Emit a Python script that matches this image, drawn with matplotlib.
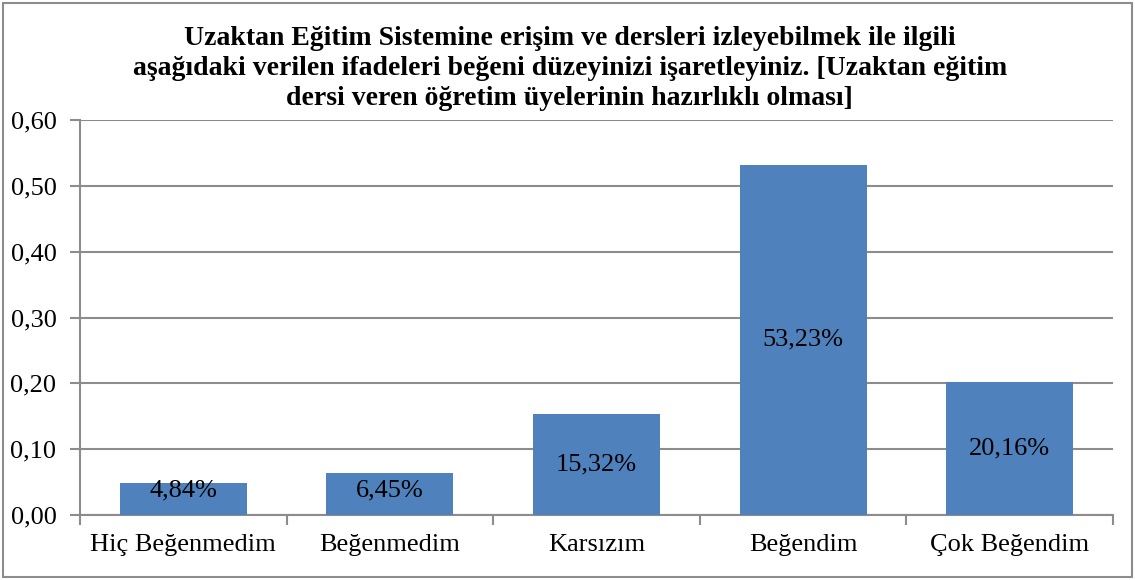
import matplotlib.pyplot as plt
from matplotlib.patches import Rectangle
from matplotlib.ticker import FuncFormatter

# chart data
categories = ['Hiç Beğenmedim', 'Beğenmedim', 'Karsızım', 'Beğendim', 'Çok Beğendim']
values = [0.0484, 0.0645, 0.1532, 0.5323, 0.2016]
labels = ['4,84%', '6,45%', '15,32%', '53,23%', '20,16%']
title = ('Uzaktan Eğitim Sistemine erişim ve dersleri izleyebilmek ile ilgili\n'
         'aşağıdaki verilen ifadeleri beğeni düzeyinizi işaretleyiniz. [Uzaktan eğitim\n'
         'dersi veren öğretim üyelerinin hazırlıklı olması]')

plt.rcParams['font.family'] = ['Liberation Serif', 'DejaVu Serif']
grid_color = '#8c8c8c'

fig = plt.figure(figsize=(11.35, 5.8), dpi=100)
ax = fig.add_axes([80 / 1135, 65 / 580, (1113 - 80) / 1135, 395 / 580])

x = range(len(categories))
ax.bar(x, values, width=0.615, color='#4f81bd', zorder=3)

# data labels, centred in the bars (Excel pushes short ones up a bit)
for i, v in enumerate(values):
    ax.text(i, max(v / 2, 0.037), labels[i], ha='center', va='center',
            fontsize=19, color='black', zorder=4)

ax.set_xlim(-0.5, len(categories) - 0.5)
ax.set_ylim(0, 0.6)
ax.set_yticks([0, 0.1, 0.2, 0.3, 0.4, 0.5, 0.6])
ax.yaxis.set_major_formatter(FuncFormatter(lambda v, p: f'{v:.2f}'.replace('.', ',')))
ax.yaxis.grid(True, color=grid_color, linewidth=1.5, zorder=0)

ax.set_xticks(list(x))
ax.set_xticklabels(categories)
ax.set_xticks([i + 0.5 for i in range(-1, len(categories))], minor=True)
ax.tick_params(axis='x', which='major', length=0, pad=14, labelsize=19)
ax.tick_params(axis='x', which='minor', length=7, color=grid_color, width=1.5)
ax.tick_params(axis='y', length=7, color=grid_color, width=1.5, labelsize=19, pad=10)

for side in ['top', 'right']:
    ax.spines[side].set_visible(False)
for side in ['left', 'bottom']:
    ax.spines[side].set_color(grid_color)
    ax.spines[side].set_linewidth(1.5)

fig.text(0.502, 1 - 26 / 580, title, ha='center', va='top', fontsize=20,
         fontweight='bold', linespacing=1.27)

# chart border
fig.patches.append(Rectangle((3 / 1135, 3 / 580), 1 - 6 / 1135, 1 - 6 / 580,
                             transform=fig.transFigure, fill=False,
                             edgecolor='#8c8c8c', linewidth=1.5))

fig.savefig('out.png', dpi=100)
